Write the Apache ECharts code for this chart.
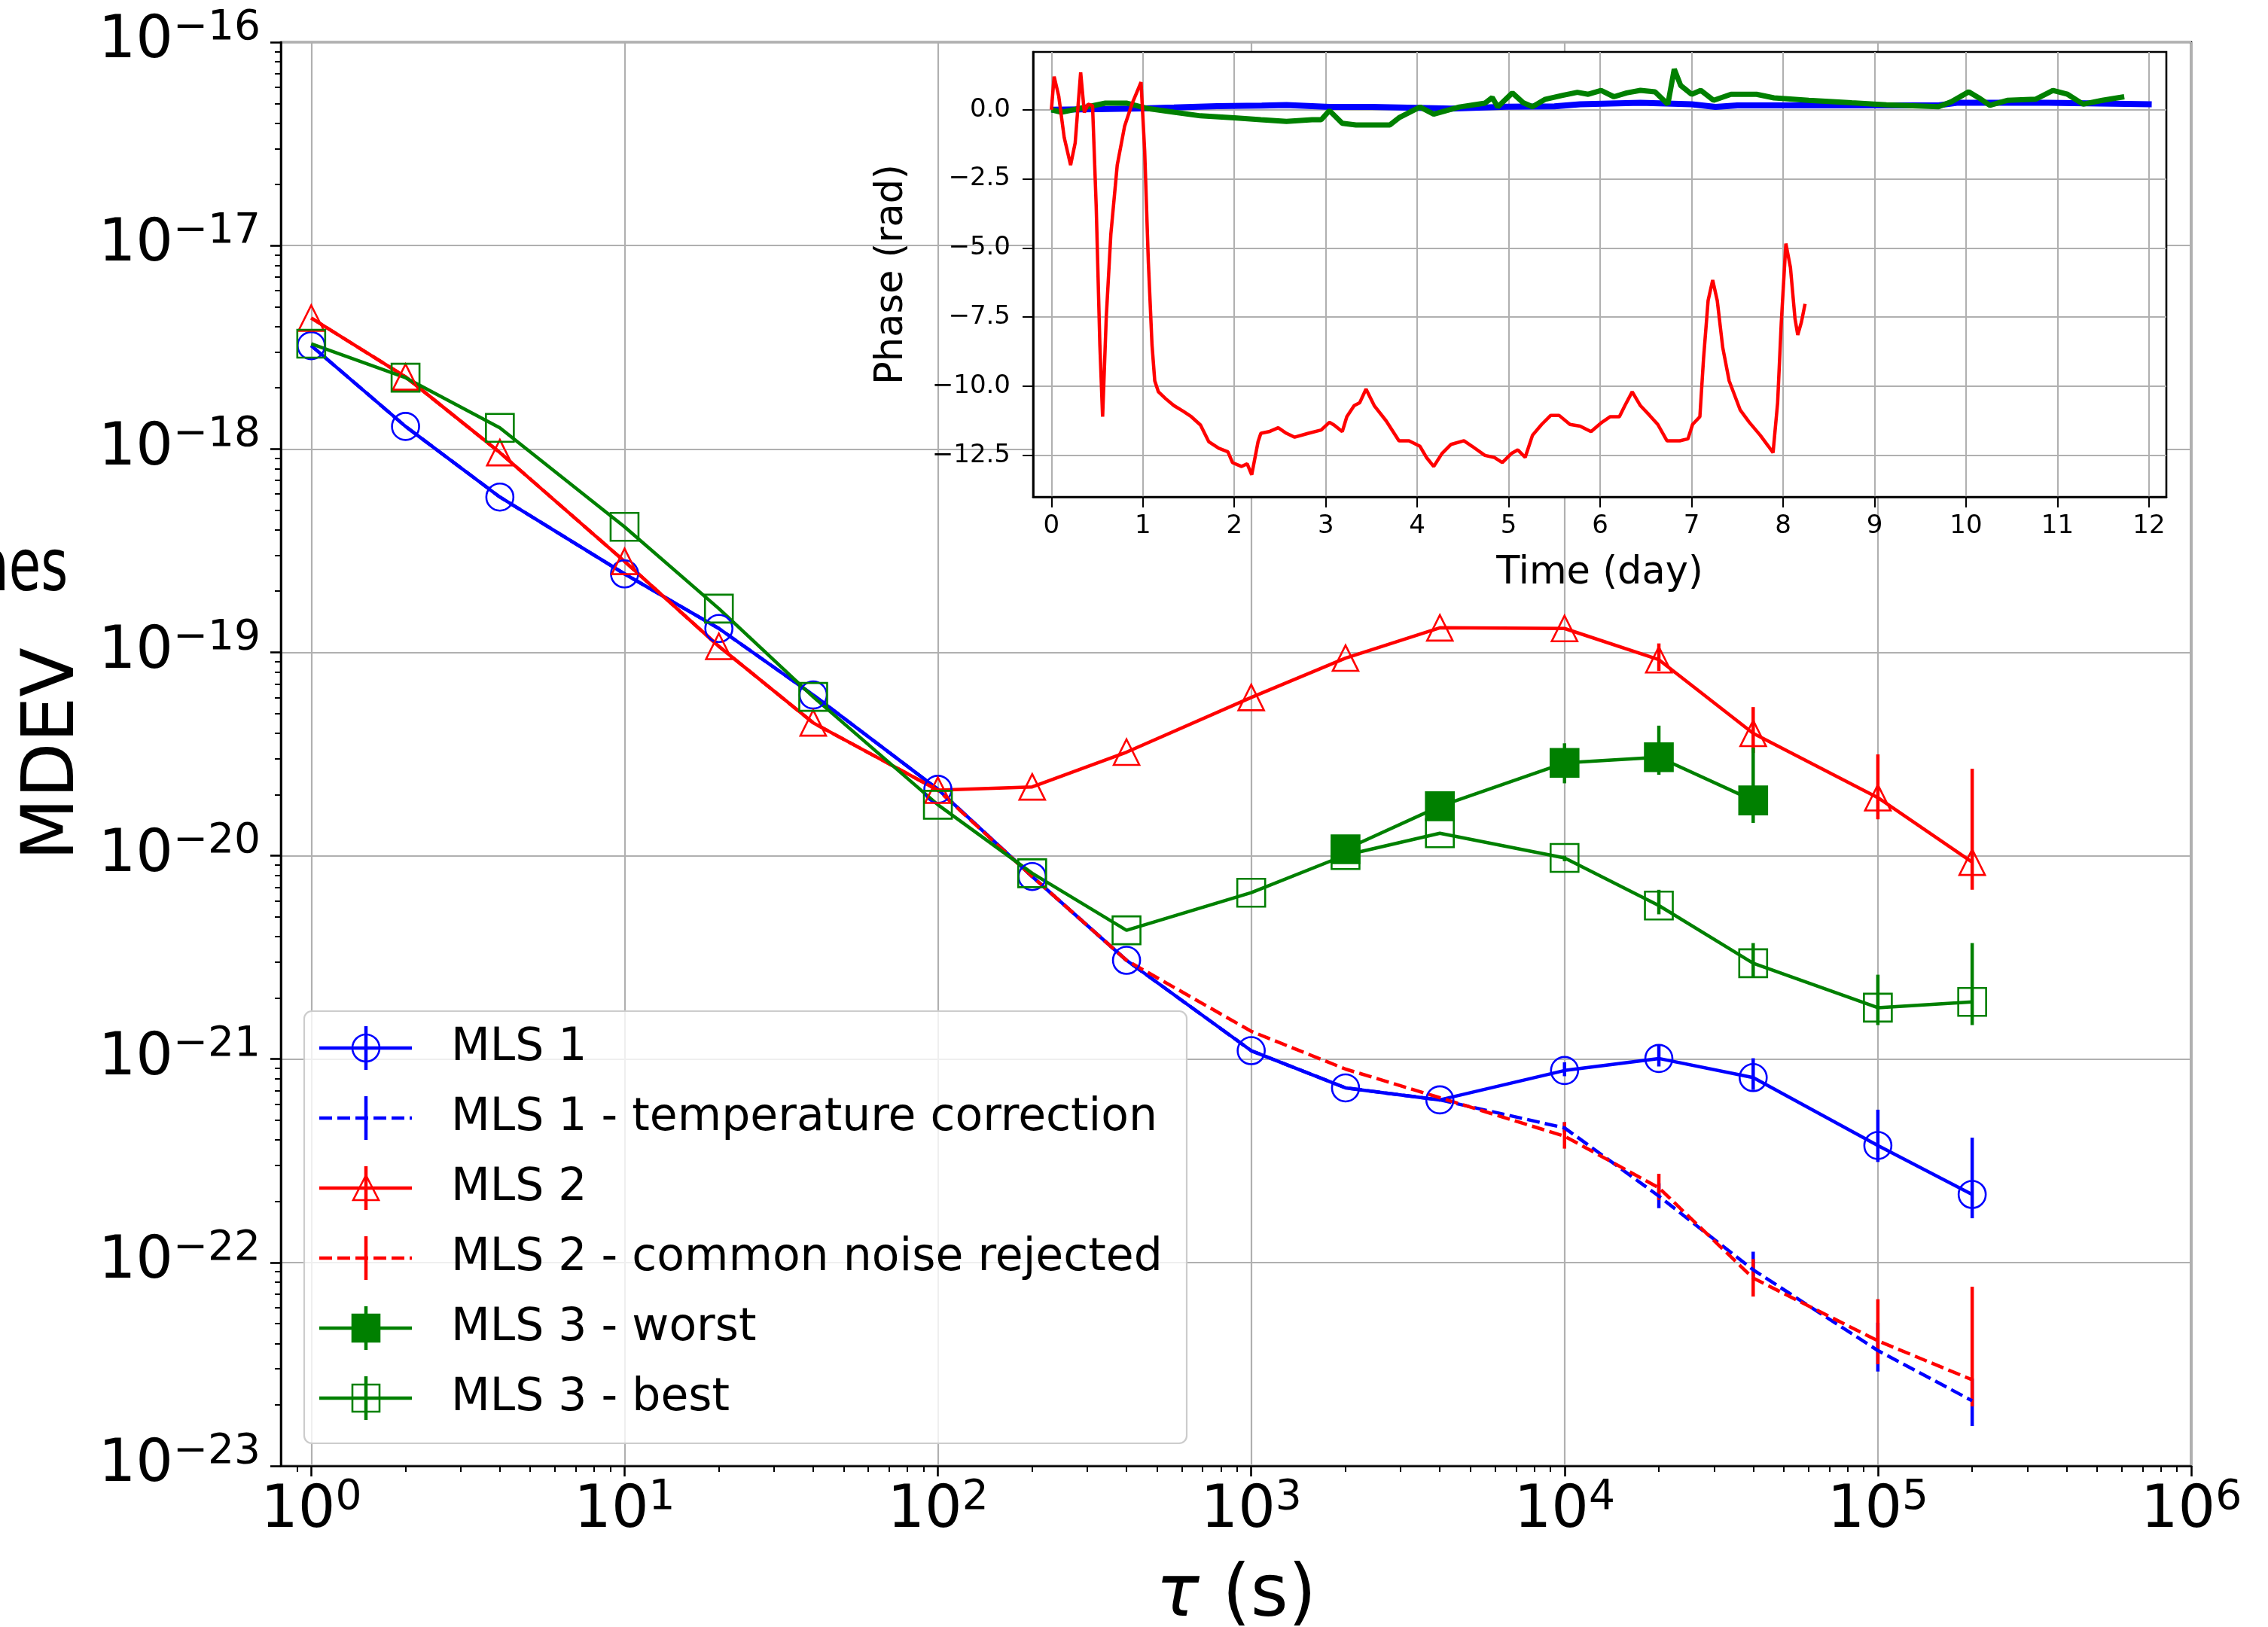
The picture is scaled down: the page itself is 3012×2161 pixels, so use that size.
<!DOCTYPE html>
<html><head><meta charset="utf-8">
<script src="https://cdn.jsdelivr.net/npm/echarts@6/dist/echarts.min.js"></script>
<style>html,body{margin:0;padding:0;background:#fff}#c{width:3012px;height:2161px}</style>
</head><body><div id="c"></div>
<script>
// ---------------- data (main plot: MDEV vs tau) ----------------
const tau = [1,2,4,10,20,40,100,200,400,1000,2000,4000,10000,20000,40000,100000,200000];
const mls1 =   [3.22e-18,1.29e-18,5.8e-19,2.43e-19,1.31e-19,6.17e-20,2.12e-20,7.9e-21,3.06e-21,1.10e-21,7.22e-22,6.3e-22,8.79e-22,1.007e-21,8.11e-22,3.76e-22,2.16e-22];
const mls1Lo = [null,null,null,null,null,null,null,null,null,null,null,null,8.24e-22,9.2e-22,7.05e-22,3.12e-22,1.65e-22];
const mls1Hi = [null,null,null,null,null,null,null,null,null,null,null,null,9.64e-22,1.18e-21,1.01e-21,5.64e-22,4.11e-22];
const mls1T =   [3.22e-18,1.29e-18,5.8e-19,2.43e-19,1.31e-19,6.17e-20,2.12e-20,7.9e-21,3.06e-21,1.10e-21,7.22e-22,6.3e-22,4.59e-22,2.12e-22,9.2e-23,3.69e-23,2.09e-23];
const mls1TLo = [null,null,null,null,null,null,null,null,null,null,null,null,4.38e-22,1.85e-22,8.5e-23,2.91e-23,1.57e-23];
const mls1THi = [null,null,null,null,null,null,null,null,null,null,null,null,4.89e-22,2.45e-22,1.13e-22,5.06e-23,2.69e-23];
const mls2 =   [4.4e-18,2.26e-18,9.6e-19,2.8e-19,1.07e-19,4.5e-20,2.1e-20,2.18e-20,3.23e-20,6.0e-20,9.37e-20,1.32e-19,1.31e-19,9.2e-20,4.0e-20,1.93e-20,9.3e-21];
const mls2Lo = [null,null,null,null,null,null,null,null,null,null,null,null,null,8.1e-20,3.2e-20,1.51e-20,6.8e-21];
const mls2Hi = [null,null,null,null,null,null,null,null,null,null,null,null,null,1.106e-19,5.38e-20,3.15e-20,2.68e-20];
const mls2C =   [4.4e-18,2.26e-18,9.6e-19,2.8e-19,1.07e-19,4.5e-20,2.1e-20,7.9e-21,3.06e-21,1.37e-21,8.93e-22,6.46e-22,4.18e-22,2.33e-22,8.38e-23,4.12e-23,2.65e-23];
const mls2CLo = [null,null,null,null,null,null,null,null,null,null,null,null,3.63e-22,2.03e-22,6.8e-23,3.16e-23,1.96e-23];
const mls2CHi = [null,null,null,null,null,null,null,null,null,null,null,null,4.9e-22,2.73e-22,1.04e-22,6.6e-23,7.6e-23];
const tauW = [2000,4000,10000,20000,40000];
const mls3W =   [1.076e-20,1.75e-20,2.86e-20,3.05e-20,1.87e-20];
const mls3WLo = [null,null,2.27e-20,2.5e-20,1.45e-20];
const mls3WHi = [null,null,3.57e-20,4.36e-20,3.4e-20];
const mls3B =   [3.29e-18,2.24e-18,1.27e-18,4.14e-19,1.64e-19,6.04e-20,1.78e-20,8.2e-21,4.3e-21,6.58e-21,1.007e-20,1.29e-20,9.75e-21,5.69e-21,2.96e-21,1.79e-21,1.91e-21];
const mls3BLo = [null,null,null,null,null,null,null,null,null,null,null,null,9.4e-21,5.15e-21,2.52e-21,1.47e-21,1.47e-21];
const mls3BHi = [null,null,null,null,null,null,null,null,null,null,null,null,1.0e-20,6.8e-21,3.72e-21,2.6e-21,3.72e-21];

const xMajor = [0,1,2,3,4,5,6];          // exponents of 10 on the tau axis
const yMajor = [-23,-22,-21,-20,-19,-18,-17,-16];

// ---------------- data (inset: phase vs time) ----------------
const blueT = [0,0.5,1.0,1.34,1.81,2.3,2.57,3.04,3.5,3.8,4.37,4.97,5.5,5.78,6.44,7.0,7.26,7.5,8.37,8.99,9.7,9.9,10.9,12.03];
const blueP = [0.0,0.02,0.05,0.08,0.13,0.15,0.17,0.10,0.10,0.08,0.04,0.11,0.12,0.20,0.25,0.20,0.10,0.16,0.16,0.16,0.16,0.25,0.25,0.20];
const greenT = [0,0.11,0.30,0.59,0.82,1.06,1.34,1.63,2.00,2.29,2.57,2.85,2.95,3.04,3.18,3.33,3.70,3.80,4.03,4.18,4.46,4.74,4.82,4.88,5.04,5.16,5.26,5.40,5.59,5.75,5.87,6.01,6.15,6.29,6.44,6.60,6.74,6.81,6.88,7.00,7.10,7.24,7.43,7.71,7.90,8.28,8.75,9.13,9.70,9.84,10.03,10.14,10.26,10.45,10.76,10.95,11.11,11.28,11.49,11.73];
const greenP = [0.0,-0.09,0.04,0.24,0.24,0.04,-0.09,-0.22,-0.29,-0.36,-0.42,-0.36,-0.36,-0.03,-0.49,-0.55,-0.55,-0.29,0.10,-0.16,0.10,0.24,0.44,0.10,0.61,0.25,0.11,0.38,0.52,0.63,0.56,0.70,0.47,0.61,0.70,0.65,0.20,1.47,0.88,0.56,0.70,0.34,0.56,0.56,0.43,0.34,0.25,0.18,0.11,0.29,0.65,0.43,0.16,0.34,0.38,0.70,0.56,0.20,0.34,0.47];
const redT = [0,0.03,0.08,0.14,0.21,0.26,0.32,0.36,0.40,0.45,0.49,0.53,0.56,0.60,0.65,0.72,0.80,0.88,0.98,1.02,1.06,1.10,1.13,1.17,1.25,1.34,1.44,1.53,1.63,1.72,1.83,1.93,1.98,2.08,2.14,2.19,2.26,2.29,2.38,2.48,2.57,2.66,2.81,2.95,3.04,3.09,3.18,3.23,3.31,3.37,3.44,3.53,3.66,3.80,3.91,4.03,4.10,4.18,4.27,4.37,4.51,4.60,4.74,4.84,4.93,5.03,5.10,5.18,5.26,5.36,5.46,5.55,5.67,5.78,5.90,6.02,6.11,6.21,6.27,6.35,6.44,6.54,6.63,6.73,6.87,6.96,7.01,7.09,7.13,7.18,7.23,7.28,7.34,7.41,7.53,7.63,7.75,7.84,7.89,7.94,7.98,8.03,8.08,8.13,8.16,8.20,8.24];
const redP = [0.0,1.2,0.5,-1.0,-2.0,-1.2,1.35,-0.1,0.2,0.15,-3.5,-8.5,-11.1,-7.5,-4.5,-2.0,-0.6,0.2,1.0,-1.5,-5.5,-8.5,-9.8,-10.2,-10.45,-10.7,-10.9,-11.1,-11.4,-12.0,-12.24,-12.37,-12.76,-12.9,-12.8,-13.2,-12.0,-11.7,-11.64,-11.5,-11.7,-11.84,-11.7,-11.58,-11.3,-11.4,-11.64,-11.1,-10.7,-10.6,-10.1,-10.7,-11.25,-11.97,-11.97,-12.17,-12.57,-12.9,-12.43,-12.1,-11.97,-12.17,-12.5,-12.57,-12.76,-12.43,-12.3,-12.57,-11.77,-11.38,-11.05,-11.05,-11.38,-11.44,-11.64,-11.3,-11.1,-11.1,-10.7,-10.2,-10.7,-11.05,-11.38,-11.97,-11.97,-11.9,-11.38,-11.1,-9.0,-6.9,-6.16,-6.9,-8.6,-9.8,-10.85,-11.3,-11.77,-12.17,-12.4,-10.6,-7.7,-4.84,-5.7,-7.55,-8.14,-7.68,-7.02];
const insetXTicks = [0,1,2,3,4,5,6,7,8,9,10,11,12];
const insetYTicks = [-12.5,-10,-7.5,-5,-2.5,0];

// ---------------- build ----------------
const L = Math.log10;
const FONT = 'DejaVu Sans';
const pts = (xs, ys) => xs.map((x,i) => ys[i]==null ? null : [L(x), L(ys[i])]).filter(Boolean);
const bars = (xs, lo, hi) => xs.map((x,i) => lo[i]==null ? null : [L(x), L(lo[i]), L(hi[i])]).filter(Boolean);
const pairs = (xs, ys) => xs.map((x,i) => [x, ys[i]]);
const minorTicks = (from, to, lo, hi) => { const r=[]; for (let n=from;n<=to;n++) for (let k=2;k<=9;k++){ const v=n+L(k); if (v>=lo-1e-9 && v<=hi+1e-9) r.push(v);} return r; };
const xMin = L(0.8), xMax = 6;

const BLUE='#0000ff', RED='#ff0000', GREEN='#008000';
function lineS(name, data, color, symbol, size, fill, dashed){
  return {name, type:'line', xAxisIndex:0, yAxisIndex:0, data,
    symbol: symbol || 'none', showSymbol: !!symbol, symbolSize: size,
    lineStyle:{color, width:4.5, type: dashed ? [17,7] : 'solid'},
    itemStyle:{color: fill ? color : 'rgba(0,0,0,0)', borderColor: color, borderWidth: 2.6},
    emphasis:{disabled:true}, silent:true, z:2};
}
function errS(data, color){
  return {type:'custom', xAxisIndex:0, yAxisIndex:0, data, silent:true, z:2,
    encode:{x:0, y:[1,2]},
    renderItem:(p, api) => { const a=api.coord([api.value(0), api.value(1)]); const b=api.coord([api.value(0), api.value(2)]);
      return {type:'line', shape:{x1:a[0],y1:a[1],x2:b[0],y2:b[1]}, style:{stroke:color, lineWidth:4.5}}; }};
}
function insetS(t, p, color, w){
  return {type:'line', xAxisIndex:2, yAxisIndex:2, data:pairs(t,p), showSymbol:false, symbol:'none',
    lineStyle:{color, width:w}, emphasis:{disabled:true}, silent:true, z:7};
}

const richMain = {
  b:{fontFamily:FONT, fontSize:78, lineHeight:92, color:'#000'},
  s:{fontFamily:FONT, fontSize:55, lineHeight:55, verticalAlign:'top', color:'#000'}
};
const gridLine = {show:true, lineStyle:{color:'#b0b0b0', width:2.2}};
const spine = {show:true, onZero:false, lineStyle:{color:'#000', width:2.6}};
const noLine = {show:false, onZero:false};

// legend (drawn as graphic)
const LEG = [
  {name:'MLS 1', color:BLUE, dashed:false, marker:'circle', fill:false},
  {name:'MLS 1 - temperature correction', color:BLUE, dashed:true, marker:null},
  {name:'MLS 2', color:RED, dashed:false, marker:'triangle', fill:false},
  {name:'MLS 2 - common noise rejected', color:RED, dashed:true, marker:null},
  {name:'MLS 3 - worst', color:GREEN, dashed:false, marker:'rect', fill:true},
  {name:'MLS 3 - best', color:GREEN, dashed:false, marker:'rect', fill:false}
];
const legendG = [{type:'rect', shape:{x:404, y:1343, width:1172, height:574, r:10},
  style:{fill:'rgba(255,255,255,0.8)', stroke:'#cccccc', lineWidth:2.2}, z:20}];
LEG.forEach((it, i) => {
  const y = 1392 + i*93, cx = 486;
  legendG.push({type:'line', shape:{x1:424, y1:y, x2:547, y2:y}, style:{stroke:it.color, lineWidth:4.5, lineDash: it.dashed?[17,7]:null}, z:21});
  legendG.push({type:'line', shape:{x1:cx, y1:y-29, x2:cx, y2:y+29}, style:{stroke:it.color, lineWidth:4.5}, z:21});
  const ms = {fill: it.fill ? it.color : 'none', stroke: it.color, lineWidth:2.6};
  if (it.marker==='circle') legendG.push({type:'circle', shape:{cx, cy:y, r:18}, style:ms, z:22});
  if (it.marker==='triangle') legendG.push({type:'polygon', shape:{points:[[cx,y-17],[cx-17,y+16],[cx+17,y+16]]}, style:ms, z:22});
  if (it.marker==='rect') legendG.push({type:'rect', shape:{x:cx-18, y:y-18, width:36, height:36}, style:ms, z:22});
  legendG.push({type:'text', x:599, y:y, style:{text:it.name, fontFamily:FONT, fontSize:60, fill:'#000', align:'left', verticalAlign:'middle'}, z:22});
});
legendG.push({type:'text', x:-32, y:759, scaleX:0.72, style:{text:'nes', fontFamily:FONT, fontSize:96, fill:'#000', align:'left', verticalAlign:'middle'}, z:22});

const option = {
  animation:false,
  backgroundColor:'#fff',
  grid:[
    {left:373, top:56, width:2537, height:1891, containLabel:false, outerBoundsMode:'none',
     show:true, borderColor:'#000', borderWidth:2.6, backgroundColor:'transparent', z:0},
    {left:1372, top:69, width:1505, height:591, containLabel:false, outerBoundsMode:'none',
     show:true, borderColor:'#000', borderWidth:2.6, backgroundColor:'#fff', z:4}
  ],
  xAxis:[
    {type:'value', gridIndex:0, min:xMin, max:xMax, position:'bottom', z:1,
     axisLine:spine,
     axisTick:{show:true, customValues:xMajor, length:14, lineStyle:{color:'#000', width:2.6}},
     axisLabel:{show:true, customValues:xMajor, margin:15, formatter:v => '{b|10}{s|' + Math.round(v) + '}', rich:richMain},
     splitLine:gridLine,
     name:'{i|τ} (s)', nameLocation:'middle', nameGap:126,
     nameTextStyle:{fontFamily:FONT, fontSize:96, color:'#000', rich:{i:{fontFamily:FONT, fontSize:96, fontStyle:'italic', color:'#000'}}}},
    {type:'value', gridIndex:0, min:xMin, max:xMax, position:'bottom', z:1,
     axisLine:noLine, axisLabel:{show:false}, splitLine:{show:false},
     axisTick:{show:true, customValues:minorTicks(-1,5,xMin,xMax), length:8, lineStyle:{color:'#000', width:2}}},
    {type:'value', gridIndex:1, min:-0.2, max:12.19, position:'bottom', z:5,
     axisLine:spine,
     axisTick:{show:true, customValues:insetXTicks, length:14, lineStyle:{color:'#000', width:2}},
     axisLabel:{show:true, customValues:insetXTicks, margin:22, fontFamily:FONT, fontSize:34, color:'#000', formatter:v => String(Math.round(v))},
     splitLine:{show:true, lineStyle:{color:'#b0b0b0', width:2}},
     name:'Time (day)', nameLocation:'middle', nameGap:76, nameTextStyle:{fontFamily:FONT, fontSize:51, color:'#000'}}
  ],
  yAxis:[
    {type:'value', gridIndex:0, min:-23, max:-16, interval:1, position:'left', z:1,
     axisLine:spine,
     axisTick:{show:true, length:14, lineStyle:{color:'#000', width:2.6}},
     axisLabel:{show:true, margin:27, formatter:v => '{b|10}{s|−' + Math.round(-v) + '}', rich:richMain},
     splitLine:gridLine,
     name:'MDEV', nameLocation:'middle', nameGap:228, nameRotate:90,
     nameTextStyle:{fontFamily:FONT, fontSize:96, color:'#000'}},
    {type:'value', gridIndex:0, min:-23, max:-16, position:'left', z:1,
     axisLine:noLine, axisLabel:{show:false}, splitLine:{show:false},
     axisTick:{show:true, customValues:minorTicks(-23,-17,-23,-16), length:8, lineStyle:{color:'#000', width:2}}},
    {type:'value', gridIndex:1, min:-14.0, max:2.09, position:'left', z:5,
     axisLine:spine,
     axisTick:{show:true, customValues:insetYTicks, length:14, lineStyle:{color:'#000', width:2}},
     axisLabel:{show:true, customValues:insetYTicks, margin:30, fontFamily:FONT, fontSize:34, color:'#000',
       formatter:v => (v<0?'−':'') + Math.abs(v).toFixed(1)},
     splitLine:{show:true, lineStyle:{color:'#b0b0b0', width:2}},
     name:'Phase (rad)', nameLocation:'middle', nameGap:162, nameRotate:90, nameTextStyle:{fontFamily:FONT, fontSize:51, color:'#000'}}
  ],
  series:[
    lineS('MLS 1', pts(tau, mls1), BLUE, 'circle', 36, false, false),
    errS(bars(tau, mls1Lo, mls1Hi), BLUE),
    lineS('MLS 1 - temperature correction', pts(tau, mls1T), BLUE, null, 0, false, true),
    errS(bars(tau, mls1TLo, mls1THi), BLUE),
    lineS('MLS 2', pts(tau, mls2), RED, 'triangle', 34, false, false),
    errS(bars(tau, mls2Lo, mls2Hi), RED),
    lineS('MLS 2 - common noise rejected', pts(tau, mls2C), RED, null, 0, false, true),
    errS(bars(tau, mls2CLo, mls2CHi), RED),
    lineS('MLS 3 - worst', pts(tauW, mls3W), GREEN, 'rect', 37, true, false),
    errS(bars(tauW, mls3WLo, mls3WHi), GREEN),
    lineS('MLS 3 - best', pts(tau, mls3B), GREEN, 'rect', 37, false, false),
    errS(bars(tau, mls3BLo, mls3BHi), GREEN),
    insetS(blueT, blueP, BLUE, 8),
    insetS(greenT, greenP, GREEN, 7),
    insetS(redT, redP, RED, 4.5)
  ],
  graphic: legendG
};
const chart = echarts.init(document.getElementById('c'), null, {renderer:'canvas'});
chart.setOption(option);
</script></body></html>
